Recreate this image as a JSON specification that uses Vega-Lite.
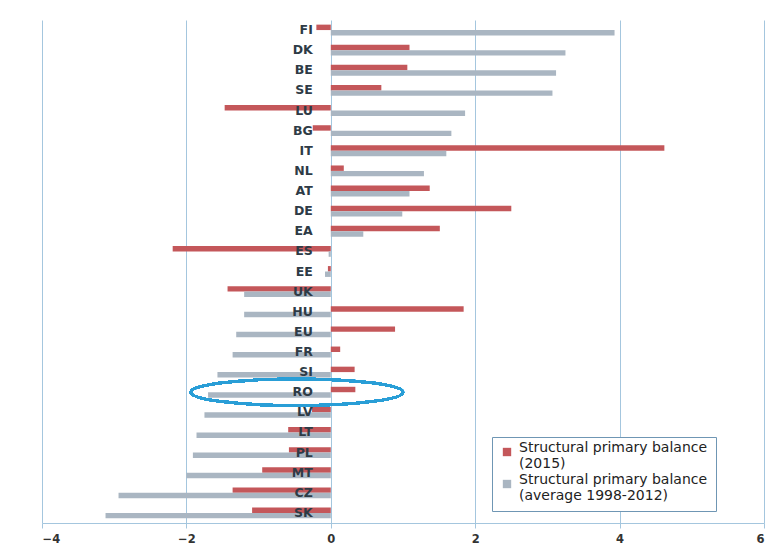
{
  "$schema": "https://vega.github.io/schema/vega-lite/v6.json",
  "width": 722,
  "height": 503,
  "autosize": "none",
  "padding": {"left": 42, "top": 20, "right": 12, "bottom": 29},
  "background": "white",
  "config": {
    "view": {"stroke": null},
    "font": "DejaVu Sans"
  },
  "data": {
    "values": [
      {"c": "FI", "s": "Structural primary balance (2015)", "v": -0.2},
      {"c": "FI", "s": "Structural primary balance (average 1998-2012)", "v": 3.93},
      {"c": "DK", "s": "Structural primary balance (2015)", "v": 1.09},
      {"c": "DK", "s": "Structural primary balance (average 1998-2012)", "v": 3.25},
      {"c": "BE", "s": "Structural primary balance (2015)", "v": 1.06},
      {"c": "BE", "s": "Structural primary balance (average 1998-2012)", "v": 3.12},
      {"c": "SE", "s": "Structural primary balance (2015)", "v": 0.7},
      {"c": "SE", "s": "Structural primary balance (average 1998-2012)", "v": 3.07},
      {"c": "LU", "s": "Structural primary balance (2015)", "v": -1.47},
      {"c": "LU", "s": "Structural primary balance (average 1998-2012)", "v": 1.86},
      {"c": "BG", "s": "Structural primary balance (2015)", "v": -0.25},
      {"c": "BG", "s": "Structural primary balance (average 1998-2012)", "v": 1.67},
      {"c": "IT", "s": "Structural primary balance (2015)", "v": 4.62},
      {"c": "IT", "s": "Structural primary balance (average 1998-2012)", "v": 1.6},
      {"c": "NL", "s": "Structural primary balance (2015)", "v": 0.18},
      {"c": "NL", "s": "Structural primary balance (average 1998-2012)", "v": 1.29},
      {"c": "AT", "s": "Structural primary balance (2015)", "v": 1.37},
      {"c": "AT", "s": "Structural primary balance (average 1998-2012)", "v": 1.09},
      {"c": "DE", "s": "Structural primary balance (2015)", "v": 2.5},
      {"c": "DE", "s": "Structural primary balance (average 1998-2012)", "v": 0.99},
      {"c": "EA", "s": "Structural primary balance (2015)", "v": 1.51},
      {"c": "EA", "s": "Structural primary balance (average 1998-2012)", "v": 0.45},
      {"c": "ES", "s": "Structural primary balance (2015)", "v": -2.19},
      {"c": "ES", "s": "Structural primary balance (average 1998-2012)", "v": -0.03},
      {"c": "EE", "s": "Structural primary balance (2015)", "v": -0.04},
      {"c": "EE", "s": "Structural primary balance (average 1998-2012)", "v": -0.08},
      {"c": "UK", "s": "Structural primary balance (2015)", "v": -1.43},
      {"c": "UK", "s": "Structural primary balance (average 1998-2012)", "v": -1.2},
      {"c": "HU", "s": "Structural primary balance (2015)", "v": 1.84},
      {"c": "HU", "s": "Structural primary balance (average 1998-2012)", "v": -1.2},
      {"c": "EU", "s": "Structural primary balance (2015)", "v": 0.89},
      {"c": "EU", "s": "Structural primary balance (average 1998-2012)", "v": -1.31},
      {"c": "FR", "s": "Structural primary balance (2015)", "v": 0.13},
      {"c": "FR", "s": "Structural primary balance (average 1998-2012)", "v": -1.36},
      {"c": "SI", "s": "Structural primary balance (2015)", "v": 0.33},
      {"c": "SI", "s": "Structural primary balance (average 1998-2012)", "v": -1.57},
      {"c": "RO", "s": "Structural primary balance (2015)", "v": 0.34},
      {"c": "RO", "s": "Structural primary balance (average 1998-2012)", "v": -1.7},
      {"c": "LV", "s": "Structural primary balance (2015)", "v": -0.26},
      {"c": "LV", "s": "Structural primary balance (average 1998-2012)", "v": -1.75},
      {"c": "LT", "s": "Structural primary balance (2015)", "v": -0.59},
      {"c": "LT", "s": "Structural primary balance (average 1998-2012)", "v": -1.86},
      {"c": "PL", "s": "Structural primary balance (2015)", "v": -0.58},
      {"c": "PL", "s": "Structural primary balance (average 1998-2012)", "v": -1.91},
      {"c": "MT", "s": "Structural primary balance (2015)", "v": -0.95},
      {"c": "MT", "s": "Structural primary balance (average 1998-2012)", "v": -2.0},
      {"c": "CZ", "s": "Structural primary balance (2015)", "v": -1.36},
      {"c": "CZ", "s": "Structural primary balance (average 1998-2012)", "v": -2.94},
      {"c": "SK", "s": "Structural primary balance (2015)", "v": -1.09},
      {"c": "SK", "s": "Structural primary balance (average 1998-2012)", "v": -3.12}
    ]
  },
  "layer": [
    {
      "mark": {"type": "bar"},
      "encoding": {
        "y": {
          "field": "c",
          "type": "nominal",
          "sort": ["FI", "DK", "BE", "SE", "LU", "BG", "IT", "NL", "AT", "DE", "EA", "ES", "EE", "UK", "HU", "EU", "FR", "SI", "RO", "LV", "LT", "PL", "MT", "CZ", "SK"],
          "axis": null,
          "scale": {"paddingInner": 0.46, "paddingOuter": 0.23}
        },
        "x": {
          "field": "v",
          "type": "quantitative",
          "scale": {"domain": [-4, 6], "nice": false, "zero": false},
          "axis": {
            "values": [-4, -2, 0, 2, 4, 6],
            "format": "d",
            "title": null,
            "grid": true,
            "gridColor": "#a4c6de",
            "gridWidth": 1,
            "domainColor": "#a4c6de",
            "tickColor": "#a4c6de",
            "tickSize": 5,
            "labelFont": "DejaVu Sans",
            "labelFontSize": 11.5,
            "labelFontWeight": "bold",
            "labelColor": "#333333",
            "labelPadding": 5
          }
        },
        "yOffset": {
          "field": "s",
          "type": "nominal",
          "sort": ["Structural primary balance (2015)", "Structural primary balance (average 1998-2012)"]
        },
        "color": {
          "field": "s",
          "type": "nominal",
          "sort": ["Structural primary balance (2015)", "Structural primary balance (average 1998-2012)"],
          "scale": {"range": ["#c4575a", "#aab6c2"]},
          "legend": {
            "title": null,
            "orient": "none",
            "legendX": 450,
            "legendY": 417,
            "direction": "vertical",
            "fillColor": "white",
            "strokeColor": "#6f96b4",
            "padding": 8,
            "symbolType": "square",
            "symbolSize": 70,
            "symbolStrokeWidth": 0,
            "labelFont": "DejaVu Sans",
            "labelFontSize": 14,
            "labelColor": "#222222",
            "labelBaseline": "alphabetic",
            "labelOffset": 5,
            "labelLimit": 400,
            "rowPadding": 2,
            "labelExpr": "[slice(datum.label, 0, 26), slice(datum.label, 27)]"
          }
        }
      }
    },
    {
      "transform": [{"filter": "datum.s == 'Structural primary balance (2015)'"}],
      "mark": {
        "type": "text",
        "align": "right",
        "baseline": "middle",
        "dx": -18,
        "font": "DejaVu Sans",
        "fontSize": 12.5,
        "fontWeight": "bold",
        "color": "#2e3b46"
      },
      "encoding": {
        "y": {
          "field": "c",
          "type": "nominal",
          "sort": ["FI", "DK", "BE", "SE", "LU", "BG", "IT", "NL", "AT", "DE", "EA", "ES", "EE", "UK", "HU", "EU", "FR", "SI", "RO", "LV", "LT", "PL", "MT", "CZ", "SK"]
        },
        "x": {"datum": 0, "type": "quantitative"},
        "text": {"field": "c"}
      }
    },
    {
      "mark": {
        "type": "point",
        "shape": "M-1,0A1,0.125 0 1,0 1,0A1,0.125 0 1,0 -1,0Z",
        "size": 45000,
        "filled": false,
        "stroke": "#2a9ed6",
        "strokeWidth": 2.5,
        "opacity": 1
      },
      "encoding": {
        "x": {"datum": -0.47, "type": "quantitative"},
        "y": {"datum": "RO", "type": "nominal"}
      }
    }
  ]
}
